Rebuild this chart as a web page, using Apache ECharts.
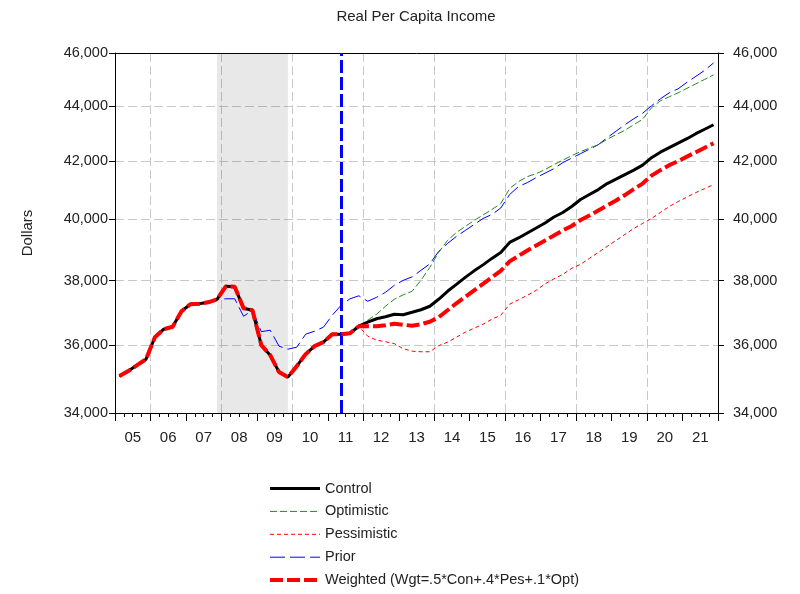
<!DOCTYPE html>
<html>
<head>
<meta charset="utf-8">
<script src="https://cdn.jsdelivr.net/npm/echarts@6/dist/echarts.min.js"></script>
<style>
  html, body { margin: 0; padding: 0; background: #fff; }
  #chart { width: 800px; height: 594px; }
</style>
</head>
<body>
<div id="chart"></div>
<script>
// Year labels along the bottom axis (2005-2021)
const yearLabels = ['05','06','07','08','09','10','11','12','13','14','15','16','17','18','19','20','21'];

// Quarterly categories, 2005Q1 .. 2021Q4
const quarters = [];
yearLabels.forEach(function (y) {
  for (let q = 1; q <= 4; q++) quarters.push('20' + y + 'Q' + q);
});

// Actual history, 2005Q1 .. 2011Q4 (dollars)
const history = [35070, 35217, 35395, 35573, 36234, 36478, 36555, 37032, 37250, 37265, 37312, 37406,
                 37816, 37800, 37125, 37063, 35993, 35692, 35188, 35041, 35365, 35722, 35962, 36083,
                 36326, 36326, 36356, 36570];

// Forecasts, 2012Q1 .. 2021Q4
const control = [36693, 36800, 36862, 36939, 36924, 37001, 37079, 37188, 37406, 37658,
                 37879, 38102, 38310, 38503, 38713, 38908, 39235, 39383, 39549, 39715,
                 39881, 40082, 40234, 40436, 40674, 40845, 41016, 41223, 41378, 41535,
                 41691, 41866, 42130, 42325, 42485, 42645, 42806, 42986, 43148, 43311];
const optimistic = [36754, 36939, 37188, 37406, 37547, 37658, 38006, 38422, 38908, 39301,
                    39565, 39765, 39965, 40149, 40335, 40538, 41050, 41292, 41465, 41569,
                    41709, 41884, 42042, 42201, 42342, 42467, 42591, 42788, 42950, 43112,
                    43311, 43511, 43932, 44190, 44338, 44487, 44655, 44824, 44993, 45163];
const pessimistic = [36265, 36144, 36098, 36038, 35887, 35812, 35794, 35794, 35977, 36083,
                     36234, 36387, 36509, 36631, 36785, 36908, 37250, 37391, 37532, 37689,
                     37895, 38054, 38198, 38390, 38519, 38713, 38908, 39104, 39301, 39499,
                     39698, 39865, 40032, 40234, 40436, 40606, 40759, 40913, 41050, 41188];
const weighted = [36570, 36570, 36600, 36647, 36616, 36585, 36631, 36708, 36847, 37063,
                  37281, 37485, 37689, 37895, 38102, 38310, 38616, 38794, 38973, 39137,
                  39301, 39466, 39632, 39781, 39982, 40133, 40301, 40470, 40640, 40828,
                  41033, 41223, 41500, 41691, 41866, 42007, 42166, 42325, 42485, 42645];

// Previous vintage (history + forecast), 2005Q1 .. 2021Q4
const prior = [35070, 35217, 35395, 35573, 36234, 36478, 36555, 37032, 37250, 37265, 37312, 37406,
               37422, 37422, 36877, 37063, 36402, 36448, 35962, 35872, 35932, 36326, 36417, 36539,
               36908, 37219, 37422, 37516, 37344, 37469, 37626, 37847, 38006, 38118, 38326, 38535,
               38941, 39202, 39433, 39632, 39831, 40032, 40166, 40385, 40845, 41119, 41257, 41430,
               41587, 41744, 41954, 42113, 42272, 42431, 42591, 42842, 43076, 43311, 43529, 43730,
               44006, 44264, 44487, 44637, 44880, 45106, 45334, 45619];

// Dollar ticks on the (logarithmic) value axes
const yTicks = [34000, 36000, 38000, 40000, 42000, 44000, 46000];

// Recession band and last-history marker
const recession = ['2007Q4', '2009Q4'];
const forecastMark = '2011Q2';

const FONT = "'Liberation Sans', Arial, sans-serif";
const TEXT = '#222';
const GRID_LINE = { color: '#c8c8c8', width: 1, type: [9, 4] };

const fmt = function (v) { return Math.round(v).toLocaleString('en-US'); };

function valueAxis(side) {
  return {
    type: 'log',
    position: side,
    min: 34000,
    max: 46000,
    axisLine: { show: true, lineStyle: { color: '#000', width: 1 } },
    axisTick: { show: true, inside: false, length: 6, customValues: yTicks, lineStyle: { color: '#000' } },
    axisLabel: { customValues: yTicks, formatter: fmt, margin: side === 'left' ? 7 : 15,
                 fontSize: 14.5, color: TEXT, fontFamily: FONT },
    splitLine: side === 'left'
      ? { show: true, showMinLine: false, showMaxLine: false, lineStyle: GRID_LINE }
      : { show: false }
  };
}

const leftAxis = valueAxis('left');
leftAxis.name = 'Dollars';
leftAxis.nameLocation = 'middle';
leftAxis.nameGap = 80;
leftAxis.nameRotate = 90;
leftAxis.nameTextStyle = { fontSize: 15, color: TEXT, fontFamily: FONT };

const weightedName = 'Weighted (Wgt=.5*Con+.4*Pes+.1*Opt)';

const chart = echarts.init(document.getElementById('chart'), null, { renderer: 'canvas' });
chart.setOption({
  animation: false,
  backgroundColor: '#fff',
  graphic: [{
    type: 'text',
    x: 416,
    y: 17,
    style: {
      text: 'Real Per Capita Income',
      fontSize: 15,
      fontFamily: FONT,
      fill: TEXT,
      align: 'center',
      verticalAlign: 'middle',
      textAlign: 'center',
      textVerticalAlign: 'middle'
    }
  }],
  grid: { left: 115, right: 82, top: 53, bottom: 181 },
  legend: {
    data: [
      { name: 'Control', lineStyle: { width: 3 } },
      { name: 'Optimistic', lineStyle: { width: 1 } },
      { name: 'Pessimistic', lineStyle: { width: 1 } },
      { name: 'Prior', lineStyle: { width: 1 } },
      { name: weightedName, lineStyle: { width: 4 } }
    ],
    orient: 'vertical',
    left: 268,
    top: 481,
    padding: 0,
    itemWidth: 50,
    itemHeight: 14,
    itemGap: 7.9,
    itemStyle: { opacity: 0, borderWidth: 0 },
    textStyle: { fontSize: 14.5, lineHeight: 14, color: TEXT, fontFamily: FONT }
  },
  xAxis: [
    {
      type: 'category',
      data: quarters,
      boundaryGap: true,
      axisLine: { show: true, lineStyle: { color: '#000' } },
      axisTick: { show: true, interval: 0, length: 4, lineStyle: { color: '#000' } },
      axisLabel: { show: false },
      splitLine: { show: false }
    },
    {
      type: 'category',
      data: yearLabels,
      position: 'bottom',
      boundaryGap: true,
      axisLine: { show: false },
      axisTick: { show: true, interval: 0, length: 8, lineStyle: { color: '#000' } },
      axisLabel: { interval: 0, margin: 17, fontSize: 15, color: TEXT, fontFamily: FONT },
      splitLine: { show: true, interval: function (i) { return i % 2 === 1; }, lineStyle: GRID_LINE }
    },
    {
      // top frame line
      type: 'category',
      data: quarters,
      position: 'top',
      axisLine: { show: true, lineStyle: { color: '#000' } },
      axisTick: { show: false },
      axisLabel: { show: false },
      splitLine: { show: false }
    }
  ],
  yAxis: [leftAxis, valueAxis('right')],
  series: [
    {
      name: 'Control', type: 'line', z: 4, symbol: 'none',
      data: history.concat(control),
      lineStyle: { color: '#000', width: 3 }, itemStyle: { color: '#000' }
    },
    {
      name: 'Optimistic', type: 'line', z: 3, symbol: 'none',
      data: history.concat(optimistic),
      lineStyle: { color: '#1f8a1f', width: 1, type: [7, 3] }, itemStyle: { color: '#1f8a1f' }
    },
    {
      name: 'Pessimistic', type: 'line', z: 3, symbol: 'none',
      data: history.concat(pessimistic),
      lineStyle: { color: '#ff0000', width: 1, type: [4, 3] }, itemStyle: { color: '#ff0000' }
    },
    {
      name: 'Prior', type: 'line', z: 2, symbol: 'none',
      data: prior,
      lineStyle: { color: '#0000ff', width: 1, type: [15, 5] }, itemStyle: { color: '#0000ff' },
      markArea: {
        silent: true,
        itemStyle: { color: 'rgba(0,0,0,0.09)' },
        data: [[{ xAxis: recession[0] }, { xAxis: recession[1] }]]
      }
    },
    {
      name: weightedName, type: 'line', z: 5, symbol: 'none',
      data: history.concat(weighted),
      lineStyle: { color: '#ff0000', width: 4, type: [13, 4] }, itemStyle: { color: '#ff0000' },
      markLine: {
        silent: true,
        symbol: ['none', 'none'],
        label: { show: false },
        lineStyle: { color: '#0000ff', width: 3, type: [13, 4] },
        data: [{ xAxis: forecastMark }]
      }
    }
  ]
});
</script>
</body>
</html>
